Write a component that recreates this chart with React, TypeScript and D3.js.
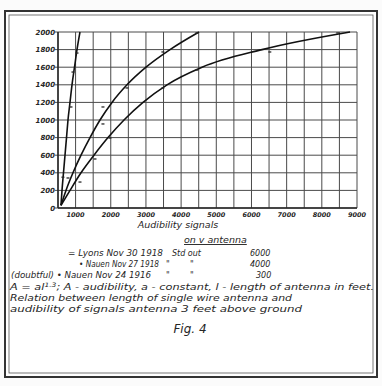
import React from 'react';
import * as d3 from 'd3';

const W = 382;
const H = 386;

// axis values
const yTicks = [0, 200, 400, 600, 800, 1000, 1200, 1400, 1600, 1800, 2000];
const xTicks = [1000, 2000, 3000, 4000, 5000, 6000, 7000, 8000, 9000];
const xGrid = d3.range(500, 9001, 500);

// curve readings: [audibility, length in feet]
const lyonsCurve = [[585, 30], [614, 200], [656, 400], [699, 600], [742, 800], [784, 1000], [841, 1200], [898, 1400], [969, 1600], [1040, 1800], [1125, 2000]];
const nauen27Curve = [[585, 30], [727, 200], [926, 400], [1154, 600], [1410, 800], [1694, 1000], [2035, 1200], [2462, 1400], [3002, 1600], [3684, 1800], [4508, 2000]];
const nauen24Curve = [[585, 30], [841, 200], [1154, 400], [1523, 600], [1922, 800], [2376, 1000], [2917, 1200], [3599, 1400], [4594, 1600], [6300, 1800], [8802, 2000]];

// observed marks
const lyonsMarks = [[869, 1148], [926, 1545], [1040, 1761], [640, 350]];
const nauen27Marks = [[784, 341], [1778, 955], [1778, 1148], [2460, 1364], [3482, 1773], [4448, 1989]];
const nauen24Marks = [[1125, 295], [1551, 557], [1977, 795], [3482, 1364], [4448, 1568], [6521, 1773], [8452, 1989]];

const ink = '#262626';
const fontFam = '"DejaVu Sans", sans-serif';

export default function App() {
  const x = d3.scaleLinear().domain([500, 9000]).range([58, 357]);
  const y = d3.scaleLinear().domain([0, 2000]).range([208, 32]);

  const line = d3
    .line<number[]>()
    .x(d => x(d[0]))
    .y(d => y(d[1]))
    .curve(d3.curveMonotoneX);

  const mark = (d: number[], i: number) => (
    <path
      key={i}
      d={`M${x(d[0]) - 1.5},${y(d[1])} L${x(d[0]) + 1.5},${y(d[1])}`}
      stroke={ink}
      strokeWidth={1.3}
    />
  );

  const txt = {fontFamily: fontFam, fontStyle: 'italic', fill: ink} as React.CSSProperties;

  return (
    <svg width={W} height={H} style={{position: 'absolute', left: 0, top: 0, background: '#fbfbfb'}}>
      {/* double frame */}
      <rect x={5} y={11} width={372} height={366} fill="#fff" stroke="#333" strokeWidth={2} />
      <rect x={9} y={15} width={364} height={358} fill="none" stroke="#555" strokeWidth={0.8} />

      {/* grid */}
      {xGrid.map(v => (
        <line key={'gx' + v} x1={x(v)} x2={x(v)} y1={y(0)} y2={y(2000)} stroke="#4a4a4a" strokeWidth={1} />
      ))}
      {yTicks.map(v => (
        <line key={'gy' + v} x1={x(500)} x2={x(9000)} y1={y(v)} y2={y(v)} stroke="#4a4a4a" strokeWidth={1} />
      ))}
      {/* axes */}
      <line x1={x(500)} x2={x(500)} y1={y(0)} y2={y(2000)} stroke={ink} strokeWidth={1.5} />
      <line x1={x(500)} x2={x(9000)} y1={y(0)} y2={y(0)} stroke={ink} strokeWidth={1.5} />

      {/* y labels */}
      {yTicks.map(v => (
        <g key={'yl' + v}>
          <line x1={x(500) - 3} x2={x(500)} y1={y(v)} y2={y(v)} stroke={ink} strokeWidth={0.8} />
          <text x={x(500) - 3} y={y(v) + 2.5} textAnchor="end" fontSize={7} fontWeight="bold" style={txt}>
            {v}
          </text>
        </g>
      ))}
      {/* x labels */}
      {xTicks.map(v => (
        <text key={'xl' + v} x={x(v)} y={y(0) + 9} textAnchor="middle" fontSize={6.5} fontWeight="bold" style={txt}>
          {v}
        </text>
      ))}

      {/* curves */}
      {[lyonsCurve, nauen27Curve, nauen24Curve].map((c, i) => (
        <path key={'c' + i} d={line(c) || ''} fill="none" stroke="#111" strokeWidth={1.6} />
      ))}
      {lyonsMarks.map(mark)}
      {nauen27Marks.map(mark)}
      {nauen24Marks.map(mark)}

      {/* captions */}
      <text x={178} y={228} textAnchor="middle" fontSize={9.5} style={txt}>Audibility signals</text>
      <text x={184} y={243} fontSize={9.5} style={txt} textDecoration="underline">on v antenna</text>
      <text x={68} y={256} fontSize={8} style={txt} textLength={95} lengthAdjust="spacingAndGlyphs">= Lyons Nov 30 1918</text>
      <text x={172} y={256} fontSize={8} style={txt}>Std out</text>
      <text x={250} y={256} fontSize={8} style={txt}>6000</text>
      <text x={79} y={267} fontSize={8} style={txt} textLength={80} lengthAdjust="spacingAndGlyphs">• Nauen Nov 27 1918</text>
      <text x={166} y={267} fontSize={8} style={txt}>"</text>
      <text x={190} y={267} fontSize={8} style={txt}>"</text>
      <text x={250} y={267} fontSize={8} style={txt}>4000</text>
      <text x={11} y={278} fontSize={8} style={txt} textLength={140} lengthAdjust="spacingAndGlyphs">(doubtful) • Nauen Nov 24 1916</text>
      <text x={166} y={278} fontSize={8} style={txt}>"</text>
      <text x={190} y={278} fontSize={8} style={txt}>"</text>
      <text x={256} y={278} fontSize={8} style={txt}>300</text>
      <text x={10} y={290} fontSize={9} style={txt} textLength={364} lengthAdjust="spacingAndGlyphs">
        A = al<tspan fontSize={6} dy={-3}>1.3</tspan>
        <tspan dy={3}>; A - audibility, a - constant, l - length of antenna in feet.</tspan>
      </text>
      <text x={10} y={301} fontSize={9} style={txt} textLength={282} lengthAdjust="spacingAndGlyphs">
        Relation between length of single wire antenna and
      </text>
      <text x={10} y={312} fontSize={9} style={txt} textLength={292} lengthAdjust="spacingAndGlyphs">
        audibility of signals  antenna 3 feet above ground
      </text>
      <text x={190} y={333} textAnchor="middle" fontSize={12} style={txt}>Fig. 4</text>
    </svg>
  );
}
